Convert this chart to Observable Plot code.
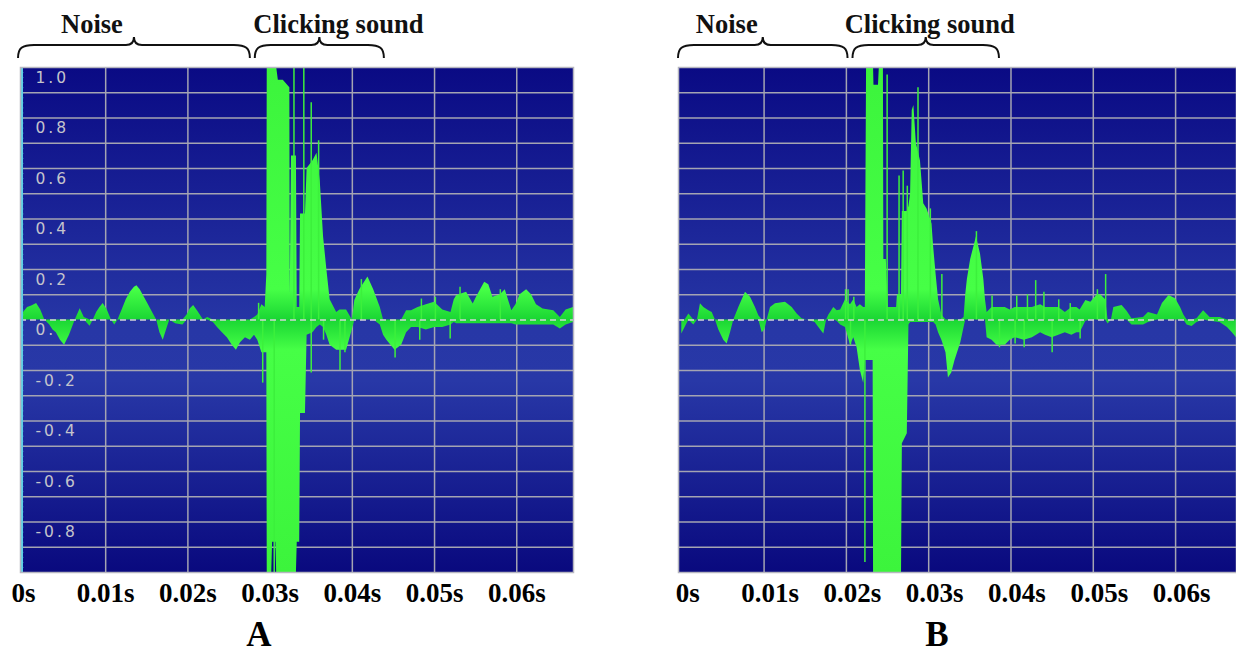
<!DOCTYPE html>
<html>
<head>
<meta charset="utf-8">
<script src="https://cdn.jsdelivr.net/npm/d3@7"></script>
<script src="https://cdn.jsdelivr.net/npm/@observablehq/plot@0.6"></script>
<style>
html, body { margin: 0; padding: 0; background: #ffffff; }
#root { position: relative; width: 1236px; height: 656px; overflow: hidden; }
.panel { position: absolute; top: 0; }
</style>
</head>
<body>
<div id="root"></div>
<script>
// ---------------- DATA ----------------
// Panel A: time in ms, lower / upper envelope of the waveform (amplitude)
const timeA = [
  0, 0.5, 1.0, 1.6, 2.1, 2.6, 3.2, 3.6, 4.0, 4.5,
  5.0, 5.6, 6.3, 6.9, 7.4, 8.1, 8.5, 8.9, 9.3, 9.7,
  10.2, 10.7, 11.1, 11.5, 12.0, 12.5, 13.0, 13.5, 13.8, 14.2,
  14.7, 15.2, 15.7, 16.2, 16.6, 17.0, 17.4, 17.8, 18.5, 19.4,
  19.9, 20.3, 20.7, 21.2, 21.9, 22.4, 23.1, 23.6, 24.2, 24.8,
  25.4, 25.9, 26.4, 27.0, 27.6, 28.1, 28.5, 29.0, 29.4, 29.6,
  29.65, 30.2, 30.3, 30.7, 30.8, 31.0, 31.6, 32.4, 32.45, 32.6,
  33.2, 33.3, 33.6, 33.7, 34.3, 34.5, 35.2, 35.7, 36.1, 36.5,
  36.9, 37.3, 38.1, 38.5, 39.3, 40.0, 40.3, 40.9, 41.9, 42.6,
  43.4, 43.8, 44.2, 45.2, 46.0, 46.6, 47.2, 48.0, 49.0, 50.0,
  51.0, 52.0, 52.4, 52.7, 53.9, 54.7, 55.1, 56.1, 56.6, 57.1,
  58.0, 58.6, 59.4, 59.9, 60.4, 61.2, 61.8, 62.4, 63.2, 64.5,
  65.3, 66.0, 66.9
];
const highA = [
  0.03, 0.05, 0.055, 0.065, 0.04, 0, 0, 0, 0, 0,
  0, 0, 0, 0.045, 0.01, 0, 0, 0.03, 0.05, 0.065,
  0.04, 0, 0, 0, 0.04, 0.08, 0.11, 0.13, 0.136, 0.12,
  0.09, 0.06, 0.03, 0, 0, 0, 0, 0, 0, 0,
  0.02, 0.045, 0.057, 0.035, 0, 0.01, 0, 0, 0, 0,
  0, 0, 0, 0, 0, 0.01, 0.02, 0.06, 0.05, 0.18,
  1.0, 1.0, 1.0, 1.0, 1.0, 0.95, 0.95, 0.92, 0.1, 0.65,
  0.65, 0.05, 0.05, 0.42, 0.42, 0.6, 0.63, 0.66, 0.55, 0.33,
  0.2, 0.08, 0.03, 0.04, 0.04, 0.0, 0.077, 0.12, 0.17, 0.12,
  0.05, 0, 0, 0, 0, 0.037, 0.037, 0.05, 0.06, 0.07,
  0.04, 0.03, 0.08, 0.097, 0.11, 0.063, 0.09, 0.15, 0.14, 0.09,
  0.1, 0.12, 0.037, 0.06, 0.1, 0.12, 0.1, 0.06, 0.044, 0.037,
  0.01, 0.04, 0.05
];
const lowA = [
  0, 0, 0, 0, 0, 0, -0.02, -0.04, -0.05, -0.08,
  -0.1, -0.06, 0, 0, 0, -0.025, 0, 0, 0, 0,
  0, 0, -0.02, 0, 0, 0, 0, 0, 0, 0,
  0, 0, 0, 0, -0.05, -0.08, -0.04, 0, -0.015, -0.02,
  0, 0, 0, 0, 0, 0, -0.01, -0.03, -0.05, -0.07,
  -0.1, -0.12, -0.09, -0.07, -0.08, -0.06, -0.08, -0.13, -0.13, -0.13,
  -1.0, -1.0, -0.88, -0.88, -1.0, -1.0, -1.0, -1.0, -1.0, -1.0,
  -1.0, -0.88, -0.88, -0.37, -0.37, -0.06, -0.05, -0.03, -0.02, -0.03,
  -0.06, -0.1, -0.12, -0.12, -0.12, -0.04, 0, 0, 0, 0,
  -0.02, -0.06, -0.08, -0.12, -0.1, -0.05, -0.03, -0.03, -0.04, -0.03,
  -0.03, -0.02, -0.01, -0.015, -0.015, -0.015, -0.015, -0.015, -0.015, -0.015,
  -0.015, -0.015, -0.015, -0.02, -0.02, -0.02, -0.02, -0.02, -0.02, -0.02,
  -0.036, -0.02, -0.01
];
// Panel A: isolated thin spikes (time ms, peak amplitude)
const spikeTimeA = [28.6, 29.1, 32.9, 34.1, 35.0, 35.0, 35.9, 36.5, 38.5, 39.1, 41.1, 45.2, 48.2, 48.4, 50.1, 51.9, 53.1, 58.0, 30.5];
const spikeValueA = [0.066, -0.25, 1.0, 1.0, 0.86, -0.21, 0.71, -0.08, -0.2, -0.13, 0.16, -0.15, -0.08, 0.083, 0.09, -0.075, 0.13, 0.12, -1.0];

// Panel B
const timeB = [
  0, 0.4, 0.86, 1.46, 1.9, 2.27, 2.68, 3.29, 3.69, 4.09,
  4.5, 5.1, 5.51, 5.92, 6.32, 6.93, 7.74, 8.35, 8.95, 9.36,
  9.77, 10.09, 10.37, 10.78, 11.38, 12.6, 13.41, 14.02, 14.6, 15.23,
  16.2, 16.65, 17.26, 17.6, 17.87, 18.47, 18.88, 19.3, 19.9, 20.5,
  20.9, 21.3, 21.7, 22.1, 22.3, 22.45, 23.25, 23.3, 23.35, 23.9, 24.0,
  24.5, 24.55, 24.85, 25.1, 26.1, 26.2, 26.7, 26.8, 27.4, 27.6,
  27.8, 28.0, 28.2, 28.5, 29.0, 29.4, 29.8, 30.4, 30.6, 30.9,
  31.2, 31.6, 32.1, 32.4, 32.8, 33.2, 33.9, 34.3, 34.5, 34.7,
  35.1, 35.5, 35.8, 36.3, 36.7, 36.9, 37.1, 37.7, 38.3, 39.3,
  39.9, 40.5, 41.6, 42.6, 43.6, 44.2, 45.0, 45.8, 46.6, 47.4,
  48.0, 48.4, 49.1, 49.7, 50.5, 50.9, 51.5, 51.8, 52.2, 52.5,
  53.5, 54.1, 54.7, 56.1, 56.7, 57.8, 58.4, 59.2, 60.0, 60.6,
  61.0, 61.4, 62.0, 62.6, 63.4, 64.2, 65.4, 66.3, 66.9, 67.4
];
const highB = [
  0, 0, 0.024, 0, 0, 0.064, 0.05, 0.037, 0.03, 0,
  0, 0, 0, 0, 0, 0.05, 0.11, 0.09, 0.05, 0.017,
  0, 0, 0, 0.05, 0.064, 0.07, 0.05, 0.024, 0.005, 0,
  0, 0, 0, 0, 0.02, 0.05, 0.037, 0.04, 0.08, 0.06,
  0.08, 0.05, 0.06, 0.05, 0.05, 1.0, 1.0, 1.0, 0.93, 0.93, 1.0,
  1.0, 0.24, 0.24, 0.05, 0.05, 0.1, 0.1, 0.43, 0.43, 0.45,
  0.5, 0.83, 0.85, 0.7, 0.63, 0.46, 0.44, 0.38, 0.29, 0.18,
  0.08, 0.02, 0, 0, 0, 0, 0, 0.01, 0.1, 0.16,
  0.24, 0.29, 0.33, 0.26, 0.16, 0.08, 0.03, 0.05, 0.05, 0.05,
  0.04, 0.05, 0.05, 0.05, 0.06, 0.05, 0.05, 0.05, 0.03, 0.05,
  0.05, 0.04, 0.077, 0.07, 0.1, 0.1, 0.08, 0, 0, 0.05,
  0.057, 0.035, 0.005, 0.01, 0.03, 0.02, 0.065, 0.097, 0.084, 0.05,
  0.02, 0, 0, 0.005, 0.037, 0.01, 0.01, 0, 0, 0
];
const lowB = [
  -0.055, -0.03, 0, -0.02, 0, 0, 0, 0, 0, 0,
  -0.04, -0.08, -0.095, -0.05, 0, 0, 0, 0, 0, 0,
  -0.05, -0.04, 0, 0, 0, 0, 0, 0, 0, 0,
  -0.01, -0.03, -0.055, 0, 0, 0, -0.005, -0.02, -0.03, -0.1,
  -0.07, -0.11, -0.2, -0.25, -0.16, -0.16, -0.16, -1.0, -1.0, -1.0, -1.0,
  -1.0, -1.0, -1.0, -1.0, -1.0, -1.0, -1.0, -0.49, -0.45, -0.02,
  -0.01, -0.01, -0.01, -0.01, -0.01, -0.01, -0.01, -0.01, -0.01, -0.02,
  -0.05, -0.08, -0.13, -0.23, -0.21, -0.16, -0.09, -0.03, 0, 0,
  0, 0, 0, 0, 0, 0, -0.07, -0.08, -0.1, -0.1,
  -0.08, -0.07, -0.08, -0.07, -0.05, -0.06, -0.07, -0.06, -0.05, -0.06,
  -0.05, -0.05, -0.005, 0, 0, 0, 0, -0.016, 0, 0,
  0, 0, -0.02, -0.02, -0.01, 0, 0, 0, 0, 0,
  0, -0.02, -0.026, -0.01, 0, -0.005, -0.01, -0.03, -0.05, -0.07
];
const spikeTimeB = [19.9, 20.2, 20.5, 20.9, 22.25, 24.95, 26.4, 26.9, 27.4, 28.7, 30.2, 31.6, 35.8, 37.7, 38.6, 40.5, 40.7, 41.6, 42.0, 43.0, 44.0, 45.0, 45.8, 47.2, 48.4, 50.5, 51.5];
const spikeValueB = [0.12, 0.12, -0.1, 0.09, -0.96, 0.97, 0.57, 0.59, 0.53, 0.92, 0.44, 0.18, 0.35, 0.095, -0.11, -0.095, 0.095, -0.11, 0.1, 0.156, 0.11, -0.13, 0.08, 0.065, -0.075, 0.12, 0.18];

// Axes / grid
const tickTimes = [0, 0.01, 0.02, 0.03, 0.04, 0.05, 0.06];
const gridTimes = [0.01, 0.02, 0.03, 0.04, 0.05, 0.06];
const gridValues = [-0.9, -0.8, -0.7, -0.6, -0.5, -0.4, -0.3, -0.2, -0.1, 0.1, 0.2, 0.3, 0.4, 0.5, 0.6, 0.7, 0.8, 0.9];
const amplitudeLabels = [1.0, 0.8, 0.6, 0.4, 0.2, 0.0, -0.2, -0.4, -0.6, -0.8];

// Annotated regions (ms)
const regionLabels = ["Noise", "Clicking sound"];
const regionStartA = [-0.6, 28.2];
const regionEndA = [27.6, 43.9];
const regionStartB = [-0.4, 20.8];
const regionEndB = [20.2, 38.6];
const panelNames = ["A", "B"];

// ---------------- DRAWING ----------------
const root = document.getElementById("root");
const serif = "'Liberation Serif', 'Times New Roman', serif";
const labelGrey = "#c4c4cc";

function makePanel(cfg) {
  const idx = d3.range(cfg.time.length);
  const sIdx = d3.range(cfg.spikeTime.length);
  const x0 = cfg.xDomain[0];
  const marks = [
    Plot.frame({fill: `url(#bg-${cfg.id})`}),
    Plot.ruleY(gridValues, {stroke: "#a4a4b2", strokeWidth: 1.5}),
    Plot.ruleX(gridTimes, {stroke: "#a4a4b2", strokeWidth: 1.5})
  ];
  if (cfg.yLabels) {
    marks.push(Plot.text(cfg.yLabels, {
      x: x0, y: d => d, text: d => d.toFixed(1), dx: 15, dy: 10.5,
      textAnchor: "start", fill: labelGrey, fontSize: 15.5,
      fontFamily: "'DejaVu Sans', sans-serif"
    }));
  }
  marks.push(
    Plot.areaY(idx, {
      x: i => cfg.time[i] / 1000, y1: i => cfg.low[i], y2: i => cfg.high[i],
      fill: `url(#wave-${cfg.id})`, curve: "linear"
    }),
    Plot.ruleX(sIdx, {
      x: i => cfg.spikeTime[i] / 1000, y1: 0, y2: i => cfg.spikeValue[i],
      stroke: "#3cf03c", strokeWidth: 1.5
    }),
    Plot.ruleY([0], {stroke: "#d4d4d8", strokeWidth: 1.5, strokeDasharray: "6,4"})
  );
  if (cfg.ruler) {
    marks.push(
      Plot.ruleX([x0], {stroke: "#5ccfe6", strokeWidth: 2, dx: 1.5}),
      Plot.ruleY(d3.range(-1, 1.0001, 0.02), {x1: x0, x2: x0 + 0.0004, stroke: "#5ccfe6", strokeWidth: 1})
    );
  }
  marks.push(
    Plot.frame({stroke: "#b6b6c0", strokeWidth: 1.5}),
    Plot.axisX(tickTimes, {
      tickSize: 0, tickPadding: 10,
      tickFormat: d => d === 0 ? "0s" : d.toFixed(2) + "s",
      fontSize: 27, fontWeight: "bold", fontFamily: serif, fill: "#000",
      dx: cfg.labelDx, label: null
    })
  );

  const svg = Plot.plot({
    width: cfg.width, height: 656,
    marginTop: 67, marginBottom: 84,
    marginLeft: cfg.marginLeft, marginRight: cfg.marginRight,
    x: {domain: cfg.xDomain},
    y: {domain: [-1, 1], axis: null},
    style: {background: "transparent", overflow: "visible"},
    marks
  });

  const xs = svg.scale("x"), ys = svg.scale("y");
  const sel = d3.select(svg);
  const defs = sel.insert("defs", ":first-child");
  const bg = defs.append("linearGradient").attr("id", `bg-${cfg.id}`)
    .attr("x1", 0).attr("x2", 0).attr("y1", 0).attr("y2", 1);
  [[0, "#0a0a84"], [0.52, "#2737a6"], [0.62, "#2838a7"], [1, "#09097e"]].forEach(([o, c]) =>
    bg.append("stop").attr("offset", o).attr("stop-color", c));
  const wave = defs.append("linearGradient").attr("id", `wave-${cfg.id}`)
    .attr("gradientUnits", "userSpaceOnUse")
    .attr("x1", 0).attr("x2", 0).attr("y1", ys.apply(1)).attr("y2", ys.apply(-1));
  [[0, "#3cf43c"], [0.44, "#46ff46"], [0.5, "#1ad634"], [0.56, "#46ff46"], [1, "#3cf43c"]].forEach(([o, c]) =>
    wave.append("stop").attr("offset", o).attr("stop-color", c));

  // wider letter spacing for the amplitude labels
  sel.selectAll("text").filter(function () {
    return this.getAttribute("fill") === labelGrey ||
      (this.parentNode && this.parentNode.getAttribute && this.parentNode.getAttribute("fill") === labelGrey);
  }).style("letter-spacing", "3px");

  // braces + region labels
  const yEnd = 58, yLine = 45, yTip = 37;
  cfg.regionStart.forEach((s, k) => {
    const a = xs.apply(s / 1000), b = xs.apply(cfg.regionEnd[k] / 1000), m = (a + b) / 2;
    const d = `M${a},${yEnd} C${a},${yLine + 3} ${a + 4},${yLine} ${a + 16},${yLine}` +
      ` L${m - 8},${yLine} C${m - 3},${yLine} ${m},${yLine - 2} ${m},${yTip}` +
      ` C${m},${yLine - 2} ${m + 3},${yLine} ${m + 8},${yLine}` +
      ` L${b - 16},${yLine} C${b - 4},${yLine} ${b},${yLine + 3} ${b},${yEnd}`;
    sel.append("path").attr("d", d).attr("fill", "none").attr("stroke", "#111").attr("stroke-width", 2);
    sel.append("text").attr("x", m + cfg.labelShift[k]).attr("y", 33)
      .attr("text-anchor", "middle").attr("font-family", serif).attr("font-weight", "bold")
      .attr("font-size", 26.5).attr("fill", "#111").text(regionLabels[k]);
  });
  sel.append("text").attr("x", cfg.letterX).attr("y", 646)
    .attr("text-anchor", "middle").attr("font-family", serif).attr("font-weight", "bold")
    .attr("font-size", 35).attr("fill", "#000").text(cfg.name);

  const wrap = document.createElement("div");
  wrap.className = "panel";
  wrap.style.left = cfg.left + "px";
  wrap.appendChild(svg);
  root.appendChild(wrap);
}

makePanel({
  id: "A", name: panelNames[0], left: 0, width: 600, marginLeft: 20, marginRight: 27,
  xDomain: [-0.00036, 0.0669], time: timeA, low: lowA, high: highA,
  spikeTime: spikeTimeA, spikeValue: spikeValueA, yLabels: amplitudeLabels, ruler: true,
  regionStart: regionStartA, regionEnd: regionEndA, labelShift: [-42, 19],
  labelDx: 0, letterX: 259
});
makePanel({
  id: "B", name: panelNames[1], left: 640, width: 596, marginLeft: 38, marginRight: 0,
  xDomain: [-0.0004, 0.0674], time: timeB, low: lowB, high: highB,
  spikeTime: spikeTimeB, spikeValue: spikeValueB, yLabels: null, ruler: false,
  regionStart: regionStartB, regionEnd: regionEndB, labelShift: [-36, 4],
  labelDx: 6, letterX: 297
});
</script>
</body>
</html>
